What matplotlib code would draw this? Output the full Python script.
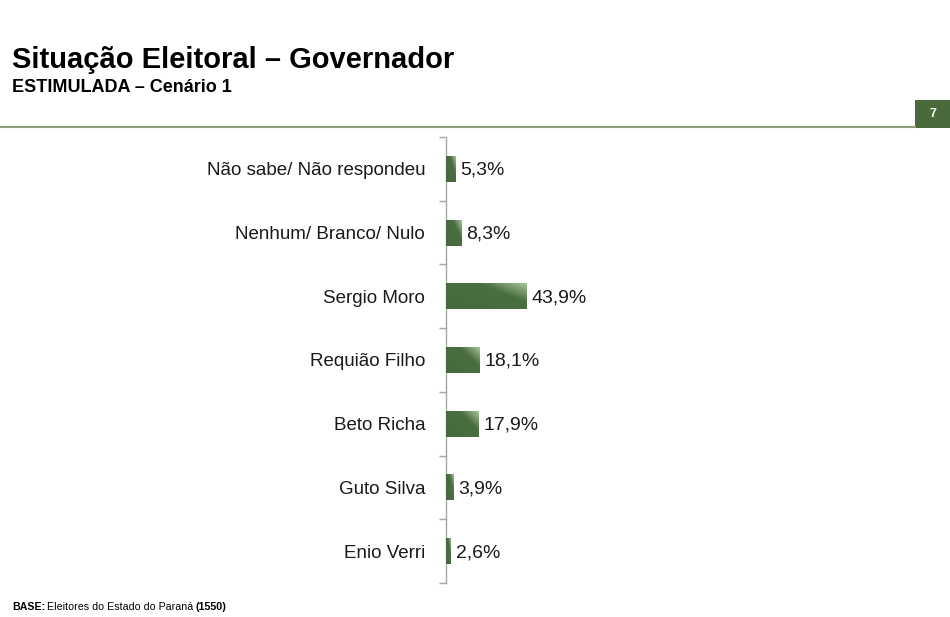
import matplotlib
matplotlib.use("Agg")
import matplotlib.pyplot as plt
import numpy as np
from matplotlib.colors import LinearSegmentedColormap

categories = ["Não sabe/ Não respondeu", "Nenhum/ Branco/ Nulo", "Sergio Moro",
              "Requião Filho", "Beto Richa", "Guto Silva", "Enio Verri"]
values = [5.3, 8.3, 43.9, 18.1, 17.9, 3.9, 2.6]
value_labels = ["5,3%", "8,3%", "43,9%", "18,1%", "17,9%", "3,9%", "2,6%"]

W, H = 950, 617
fig = plt.figure(figsize=(W / 100, H / 100), dpi=100)
plt.rcParams['font.family'] = ['Liberation Sans', 'DejaVu Sans']

ax_left, ax_right = 446 / W, 900 / W
ax_top, ax_bottom = 1 - 137 / H, 1 - 583 / H
ax = fig.add_axes([ax_left, ax_bottom, ax_right - ax_left, ax_top - ax_bottom])

xmax = (900 - 446) / 1.84
ax.set_xlim(0, xmax)
ax.set_ylim(len(categories) - 0.5, -0.5)

y = np.arange(len(categories))
bh = 0.41
cmap = LinearSegmentedColormap.from_list("g", [(0, "#466a3d"), (0.66, "#4a6e41"), (1.0, "#aac89b")])
bars = ax.barh(y, values, height=bh, color="#486c3f", edgecolor="none", zorder=2)
for b in bars:
    x0, y0 = b.get_x(), b.get_y()
    w, h = b.get_width(), b.get_height()
    nx, ny = 60, 30
    xf = np.linspace(0, 1, nx)[None, :]
    yf = np.linspace(0, 1, ny)[:, None]
    t = 0.55 * xf + 0.45 * yf
    img = ax.imshow(t, cmap=cmap, vmin=0, vmax=1, extent=[x0, x0 + w, y0, y0 + h],
                    aspect="auto", origin="upper", zorder=3, interpolation="bilinear")
    img.set_clip_path(b)

for yi, v, lab in zip(y, values, value_labels):
    ax.annotate(lab, (v, yi), xytext=(3.5, -1), textcoords="offset points",
                ha="left", va="center", fontsize=14, color="#1a1a1a")

for s in ["top", "right", "bottom"]:
    ax.spines[s].set_visible(False)
ax.spines["left"].set_color("#a6a6a6")
ax.spines["left"].set_linewidth(1.0)
ax.set_xticks([])
ax.set_yticks(np.arange(-0.5, len(categories), 1.0))
ax.set_yticklabels([])
ax.tick_params(axis="y", which="major", length=5, width=1.0, color="#a6a6a6", direction="out")
ax.set_yticks(y, minor=True)
ax.set_yticklabels(categories, minor=True, fontsize=13.5, color="#1a1a1a")
ax.tick_params(axis="y", which="minor", length=0, pad=15)
ax.set_zorder(1)

# Header
fig.text(12 / W, 1 - 68 / H, "Situação Eleitoral – Governador", fontsize=21, fontweight="bold",
         ha="left", va="baseline", color="#000000")
fig.text(12 / W, 1 - 92 / H, "ESTIMULADA – Cenário 1", fontsize=13, fontweight="bold",
         ha="left", va="baseline", color="#000000")
fig.add_artist(plt.Line2D([0, 915 / W], [1 - 127 / H, 1 - 127 / H], color="#8e9f7e", lw=1.5))
fig.add_artist(plt.Rectangle((915 / W, 1 - 128 / H), 35 / W, 28 / H, color="#4a6a3c", lw=0))
fig.text(933 / W, 1 - 114 / H, "7", fontsize=9, fontweight="bold", color="white",
         ha="center", va="center")

# Footer
t1 = fig.text(12 / W, 1 - 610 / H, "BASE:", fontsize=7.7, fontweight="bold", ha="left", va="baseline")
fig.canvas.draw()
r = fig.canvas.get_renderer()
bb = t1.get_window_extent(r)
t2 = fig.text(bb.x1 / W + 2 / W, 1 - 610 / H, "Eleitores do Estado do Paraná", fontsize=7.7,
              ha="left", va="baseline")
bb2 = t2.get_window_extent(r)
fig.text(bb2.x1 / W + 2 / W, 1 - 610 / H, "(1550)", fontsize=7.7, fontweight="bold",
         ha="left", va="baseline")

fig.savefig("out.png", dpi=100, facecolor="white")
